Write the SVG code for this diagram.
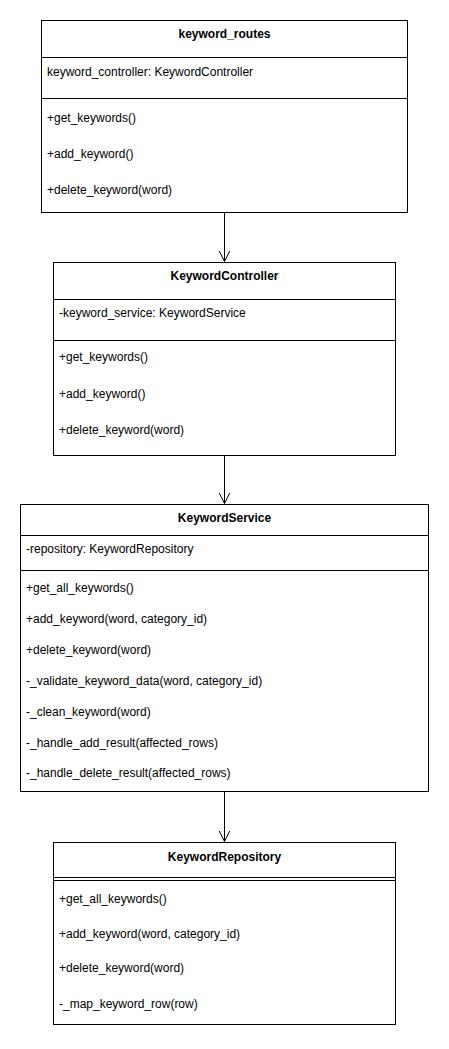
<svg xmlns="http://www.w3.org/2000/svg" width="449" height="1049" viewBox="0 0 449 1049">
<style>
.box{fill:#fff;stroke:#000;stroke-width:1}
.div{stroke:#000;stroke-width:1;fill:none}
.t{font-family:"Liberation Sans",Arial,sans-serif;font-size:12px;fill:#000}
.h{font-family:"Liberation Sans",Arial,sans-serif;font-size:12px;font-weight:bold;fill:#000;text-anchor:middle}
.edge{stroke:#000;stroke-width:1;fill:none}
</style>
<defs>
<marker id="open" markerWidth="12" markerHeight="16" refX="11" refY="6" orient="auto" markerUnits="userSpaceOnUse" viewBox="0 0 12 12">
<path d="M0,0.5 L11,6 L0,11.5" fill="none" stroke="#000" stroke-width="1"/>
</marker>
</defs>
<rect width="449" height="1049" fill="#fff"/>
<g id="connectors">
<path class="edge" d="M224.5,212.5 L224.5,261.5" marker-end="url(#open)"/>
<path class="edge" d="M224.5,455.5 L224.5,503.5" marker-end="url(#open)"/>
<path class="edge" d="M224.5,791.5 L224.5,841.5" marker-end="url(#open)"/>
</g>
<g id="keyword_routes">
<rect class="box" x="41.5" y="20.5" width="366" height="192"/>
<line class="div" x1="41.5" y1="57.5" x2="407.5" y2="57.5"/>
<line class="div" x1="41.5" y1="98.5" x2="407.5" y2="98.5"/>
<text class="h" x="224.5" y="38">keyword_routes</text>
<text class="t" x="47" y="76">keyword_controller: KeywordController</text>
<text class="t" x="47" y="122">+get_keywords()</text>
<text class="t" x="47" y="158">+add_keyword()</text>
<text class="t" x="47" y="194">+delete_keyword(word)</text>
</g>
<g id="KeywordController">
<rect class="box" x="53.5" y="262.5" width="342" height="193"/>
<line class="div" x1="53.5" y1="299.5" x2="395.5" y2="299.5"/>
<line class="div" x1="53.5" y1="340.5" x2="395.5" y2="340.5"/>
<text class="h" x="224.5" y="280">KeywordController</text>
<text class="t" x="59" y="317">-keyword_service: KeywordService</text>
<text class="t" x="59" y="361">+get_keywords()</text>
<text class="t" x="59" y="398">+add_keyword()</text>
<text class="t" x="59" y="434">+delete_keyword(word)</text>
</g>
<g id="KeywordService">
<rect class="box" x="20.5" y="504.5" width="408" height="287"/>
<line class="div" x1="20.5" y1="535.5" x2="428.5" y2="535.5"/>
<line class="div" x1="20.5" y1="570.5" x2="428.5" y2="570.5"/>
<text class="h" x="224.5" y="522">KeywordService</text>
<text class="t" x="26" y="553">-repository: KeywordRepository</text>
<text class="t" x="26" y="592">+get_all_keywords()</text>
<text class="t" x="26" y="623">+add_keyword(word, category_id)</text>
<text class="t" x="26" y="654">+delete_keyword(word)</text>
<text class="t" x="26" y="685">-_validate_keyword_data(word, category_id)</text>
<text class="t" x="26" y="716">-_clean_keyword(word)</text>
<text class="t" x="26" y="747">-_handle_add_result(affected_rows)</text>
<text class="t" x="26" y="777">-_handle_delete_result(affected_rows)</text>
</g>
<g id="KeywordRepository">
<rect class="box" x="53.5" y="842.5" width="342" height="182"/>
<line class="div" x1="53.5" y1="877.5" x2="395.5" y2="877.5"/>
<line class="div" x1="53.5" y1="880.5" x2="395.5" y2="880.5"/>
<text class="h" x="224.5" y="861">KeywordRepository</text>
<text class="t" x="59" y="903">+get_all_keywords()</text>
<text class="t" x="59" y="938">+add_keyword(word, category_id)</text>
<text class="t" x="59" y="972">+delete_keyword(word)</text>
<text class="t" x="59" y="1008">-_map_keyword_row(row)</text>
</g>
</svg>
